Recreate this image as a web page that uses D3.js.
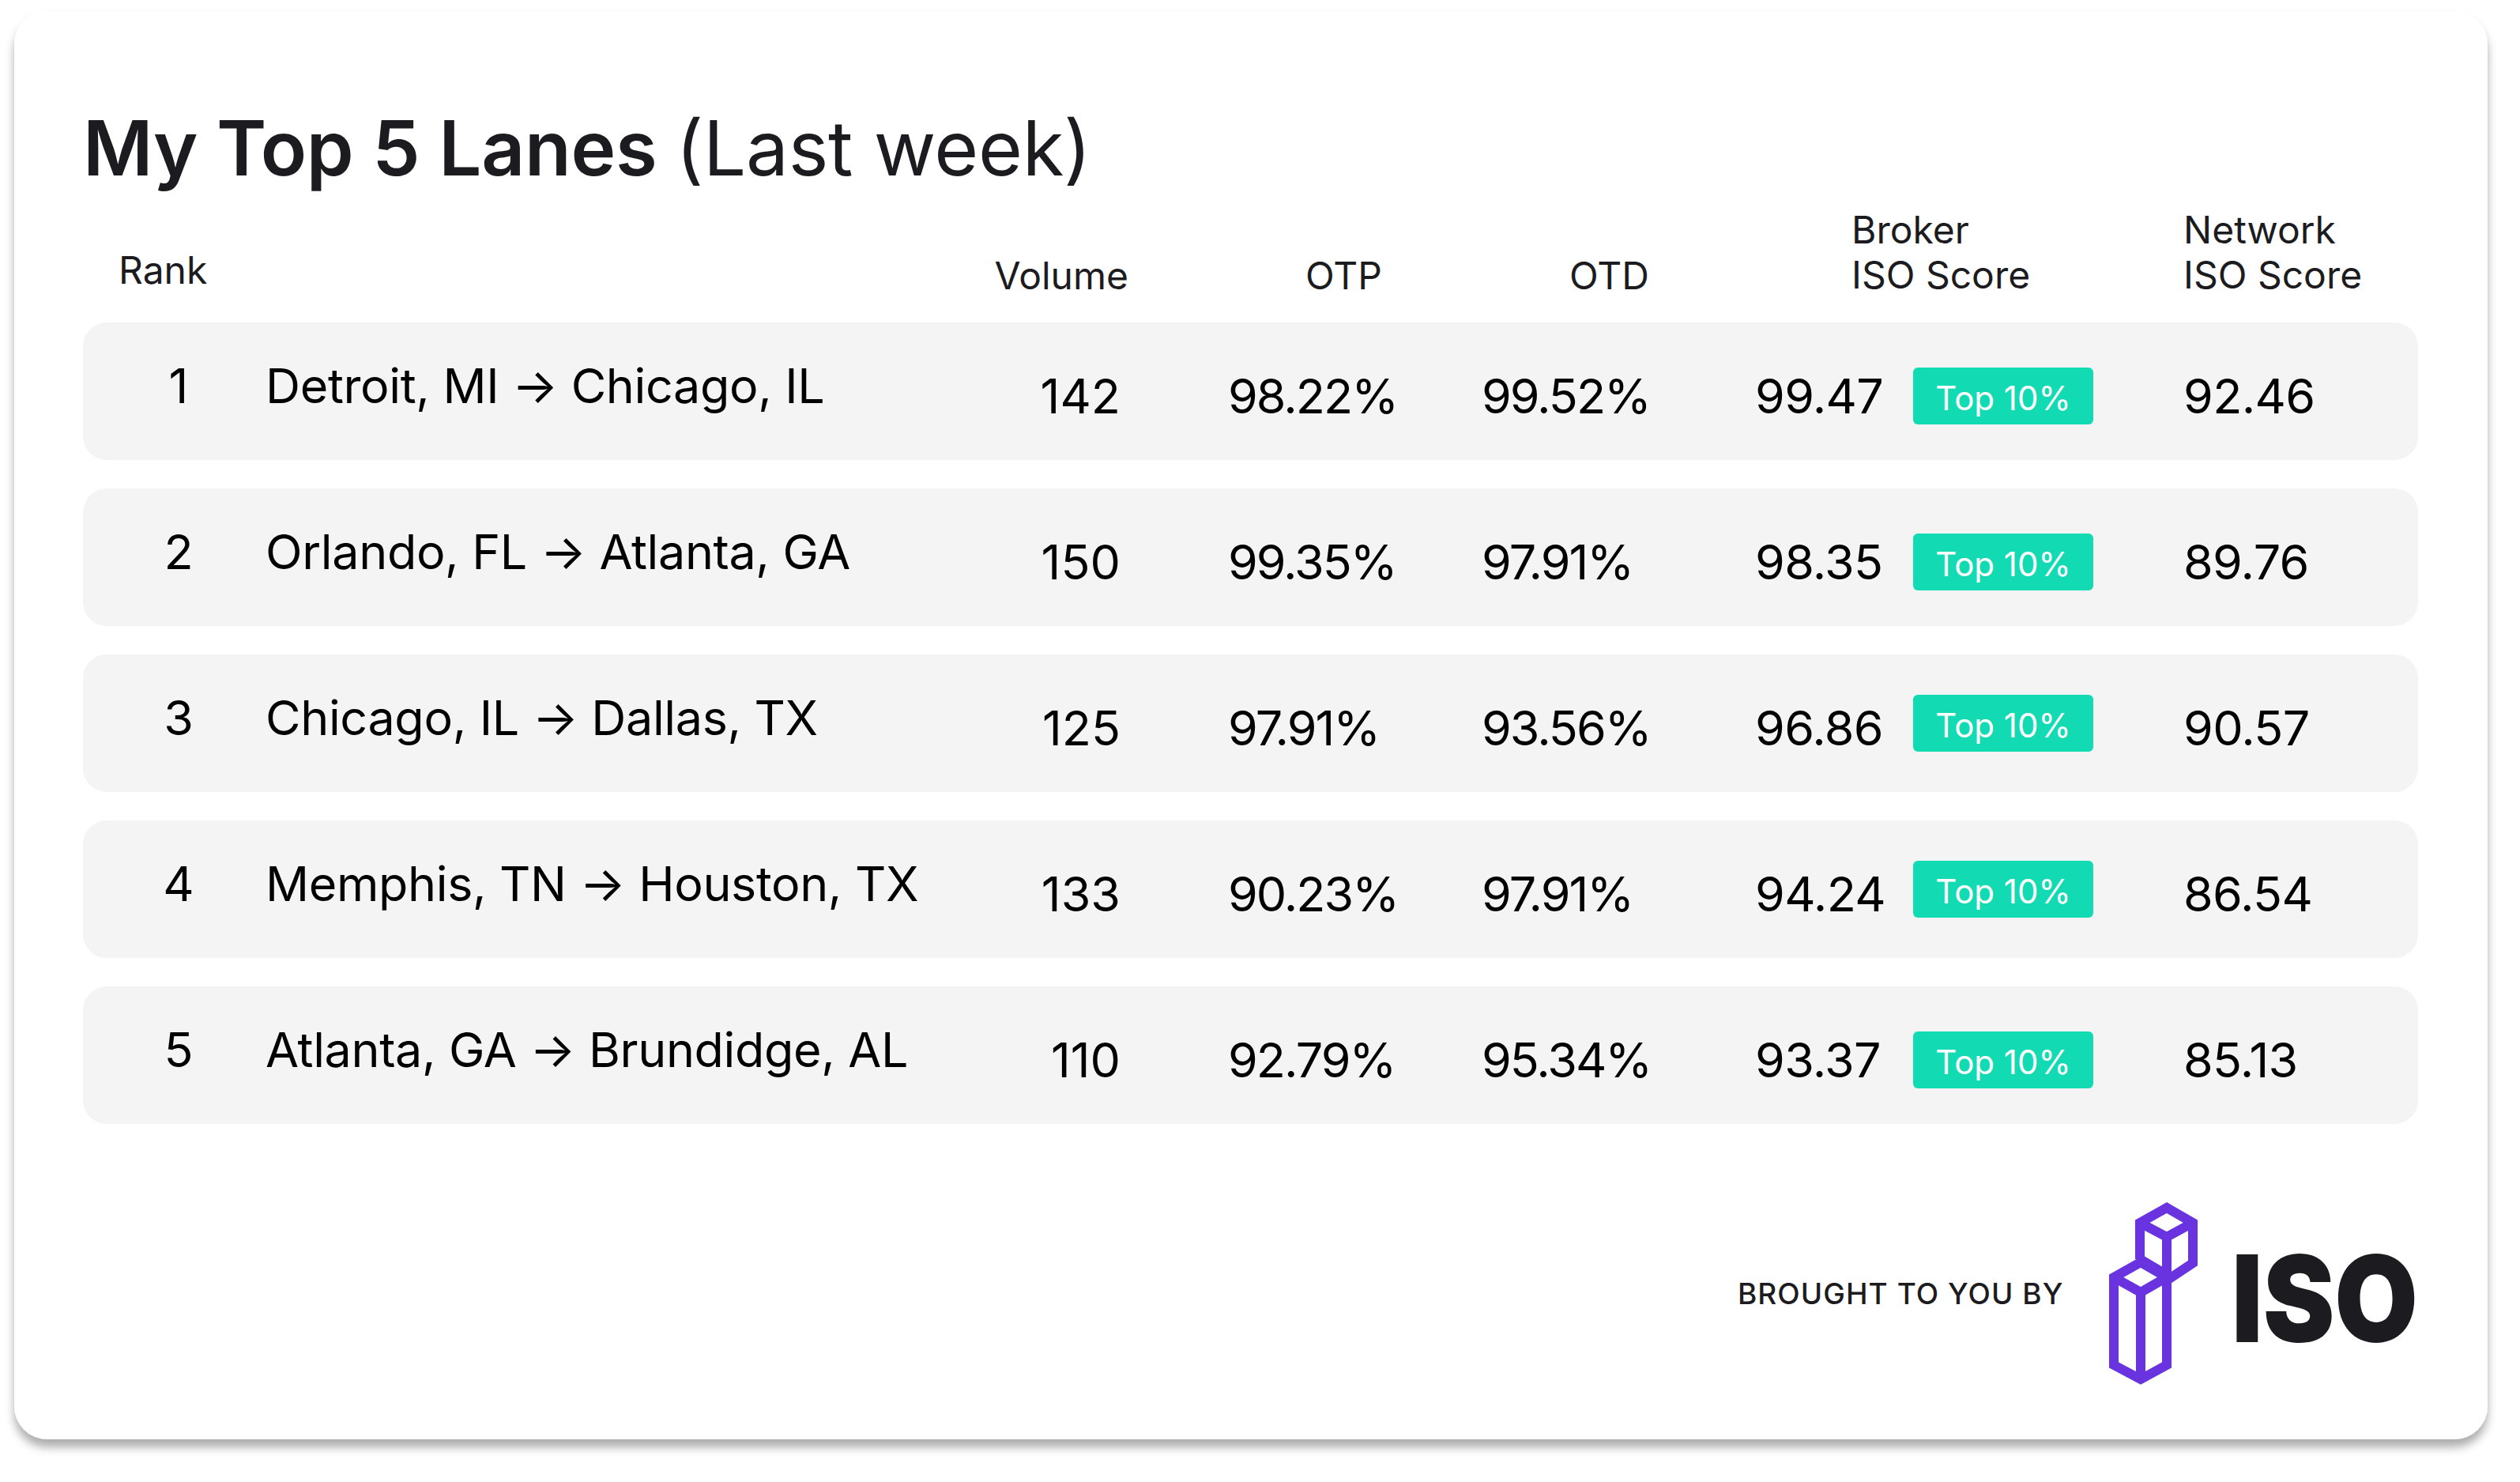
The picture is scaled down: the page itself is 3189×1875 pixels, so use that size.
<!DOCTYPE html>
<html>
<head>
<meta charset="utf-8">
<script src="https://cdn.jsdelivr.net/npm/d3@7"></script>
<style>
  body { margin: 0; background: #fff; }
  text { font-family: Inter, "Noto Sans", sans-serif; }
</style>
</head>
<body>
<svg id="chart"></svg>
<script>
// Table values
const ranks = [1, 2, 3, 4, 5];
const routes = [
  "Detroit, MI → Chicago, IL",
  "Orlando, FL → Atlanta, GA",
  "Chicago, IL → Dallas, TX",
  "Memphis, TN → Houston, TX",
  "Atlanta, GA → Brundidge, AL"
];
const volumes = [142, 150, 125, 133, 110];
const otp = ["98.22%", "99.35%", "97.91%", "90.23%", "92.79%"];
const otd = ["99.52%", "97.91%", "93.56%", "97.91%", "95.34%"];
const brokerScores = ["99.47", "98.35", "96.86", "94.24", "93.37"];
const networkScores = ["92.46", "89.76", "90.57", "86.54", "85.13"];
const badges = ["Top 10%", "Top 10%", "Top 10%", "Top 10%", "Top 10%"];

const width = 3189;
const height = 1875;
const ink = "#1c1c20";

const svg = d3.select("#chart")
  .attr("width", width)
  .attr("height", height)
  .style("display", "block");

// Card with soft shadow
const filter = svg.append("defs").append("filter")
  .attr("id", "cardShadow")
  .attr("x", "-5%").attr("y", "-5%")
  .attr("width", "110%").attr("height", "110%");
filter.append("feDropShadow")
  .attr("dx", 0).attr("dy", 10)
  .attr("stdDeviation", 6)
  .attr("flood-color", "#000")
  .attr("flood-opacity", 0.32);

svg.append("rect")
  .attr("x", 18).attr("y", 14)
  .attr("width", 3130).attr("height", 1807)
  .attr("rx", 42)
  .attr("fill", "#fff")
  .attr("filter", "url(#cardShadow)");

// Title
const title = svg.append("text")
  .attr("x", 105).attr("y", 222)
  .attr("font-size", 96)
  .attr("letter-spacing", -0.3)
  .attr("fill", ink);
title.append("tspan").attr("font-weight", 600).text("My Top 5 Lanes ");
title.append("tspan").attr("font-weight", 400).text("(Last week)");

// Scales for rows and columns
const y = d3.scaleBand()
  .domain(ranks)
  .range([408, 1422])
  .paddingInner(36 / 210);

const colX = d3.scaleOrdinal()
  .domain(["rank", "route", "volume", "otp", "otd", "broker", "badge", "network"])
  .range([226, 336, 1418, 1554, 1875, 2221, 2421, 2763]);

// Column headers
const headers = [
  { lines: ["Rank"], x: 150, anchor: "start", base: 359 },
  { lines: ["Volume"], x: 1428, anchor: "end", base: 366 },
  { lines: ["OTP"], x: 1749, anchor: "end", base: 366 },
  { lines: ["OTD"], x: 2087, anchor: "end", base: 366 },
  { lines: ["Broker", "ISO Score"], x: 2343, anchor: "start", base: 308 },
  { lines: ["Network", "ISO Score"], x: 2763, anchor: "start", base: 308 }
];

headers.forEach(h => {
  h.lines.forEach((line, i) => {
    svg.append("text")
      .attr("x", h.x)
      .attr("y", h.base + i * 57)
      .attr("text-anchor", h.anchor)
      .attr("font-size", 48)
      .attr("fill", ink)
      .text(line);
  });
});

// Rows
const rows = svg.selectAll(".row")
  .data(ranks.map((r, i) => ({
    rank: r,
    route: routes[i],
    volume: volumes[i],
    otp: otp[i],
    otd: otd[i],
    broker: brokerScores[i],
    badge: badges[i],
    network: networkScores[i],
    // the badges on rows 3 and 4 sit a little higher in the source
    nudge: [0, 0, -6, -6, 0][i]
  })))
  .enter()
  .append("g")
  .attr("class", "row")
  .attr("transform", d => `translate(0,${y(d.rank)})`);

rows.append("rect")
  .attr("x", 105)
  .attr("width", 2955)
  .attr("height", y.bandwidth())
  .attr("rx", 30)
  .attr("fill", "#f4f4f4");

const cell = (key, dy, spacing, anchor) => rows.append("text")
  .attr("x", colX(key))
  .attr("y", dy)
  .attr("text-anchor", anchor || "start")
  .attr("font-size", 61)
  .attr("letter-spacing", spacing)
  .attr("fill", "#000")
  .text(d => d[key]);

cell("rank", 102, 0, "middle");
cell("route", 102, -0.35);
cell("volume", 115, 0, "end");
cell("otp", 115, -2);
cell("otd", 115, -2);
cell("broker", 115, -0.7);
cell("network", 115, -0.7);

rows.append("rect")
  .attr("x", colX("badge"))
  .attr("y", d => 57 + d.nudge)
  .attr("width", 228)
  .attr("height", 72)
  .attr("rx", 6)
  .attr("fill", "#12dbb4");

rows.append("text")
  .attr("x", colX("badge") + 114)
  .attr("y", d => 111 + d.nudge)
  .attr("text-anchor", "middle")
  .attr("font-size", 42)
  .attr("fill", "#fff")
  .text(d => d.badge);

// Footer
svg.append("text")
  .attr("x", 2199).attr("y", 1650)
  .attr("font-size", 37)
  .attr("font-weight", 500)
  .attr("letter-spacing", 1.05)
  .attr("fill", ink)
  .text("BROUGHT TO YOU BY");

// Logo outline, each path starts mid-edge so every corner gets a mitre
const logoLines = [
  [[2708, 1593], [2708, 1547], [2742, 1528], [2775, 1547], [2775, 1598], [2742, 1620]],
  [[2708, 1547], [2742, 1565], [2775, 1547]],
  [[2742, 1565], [2742, 1613]],
  [[2708, 1593], [2742, 1613]],
  [[2675, 1660], [2675, 1616], [2709, 1597], [2742, 1616], [2742, 1727], [2709, 1745], [2675, 1727], [2675, 1660]],
  [[2675, 1616], [2709, 1635], [2742, 1616]],
  [[2709, 1635], [2709, 1745]]
];
const logoLine = d3.line();
svg.append("g")
  .selectAll("path")
  .data(logoLines)
  .enter()
  .append("path")
  .attr("d", logoLine)
  .attr("fill", "none")
  .attr("stroke", "#6a33e0")
  .attr("stroke-width", 12)
  .attr("stroke-linejoin", "miter");

svg.append("text")
  .attr("x", 2824).attr("y", 1698)
  .attr("textLength", 236)
  .attr("lengthAdjust", "spacingAndGlyphs")
  .attr("font-size", 152)
  .attr("font-weight", 900)
  .attr("fill", ink)
  .text("ISO");
</script>
</body>
</html>
